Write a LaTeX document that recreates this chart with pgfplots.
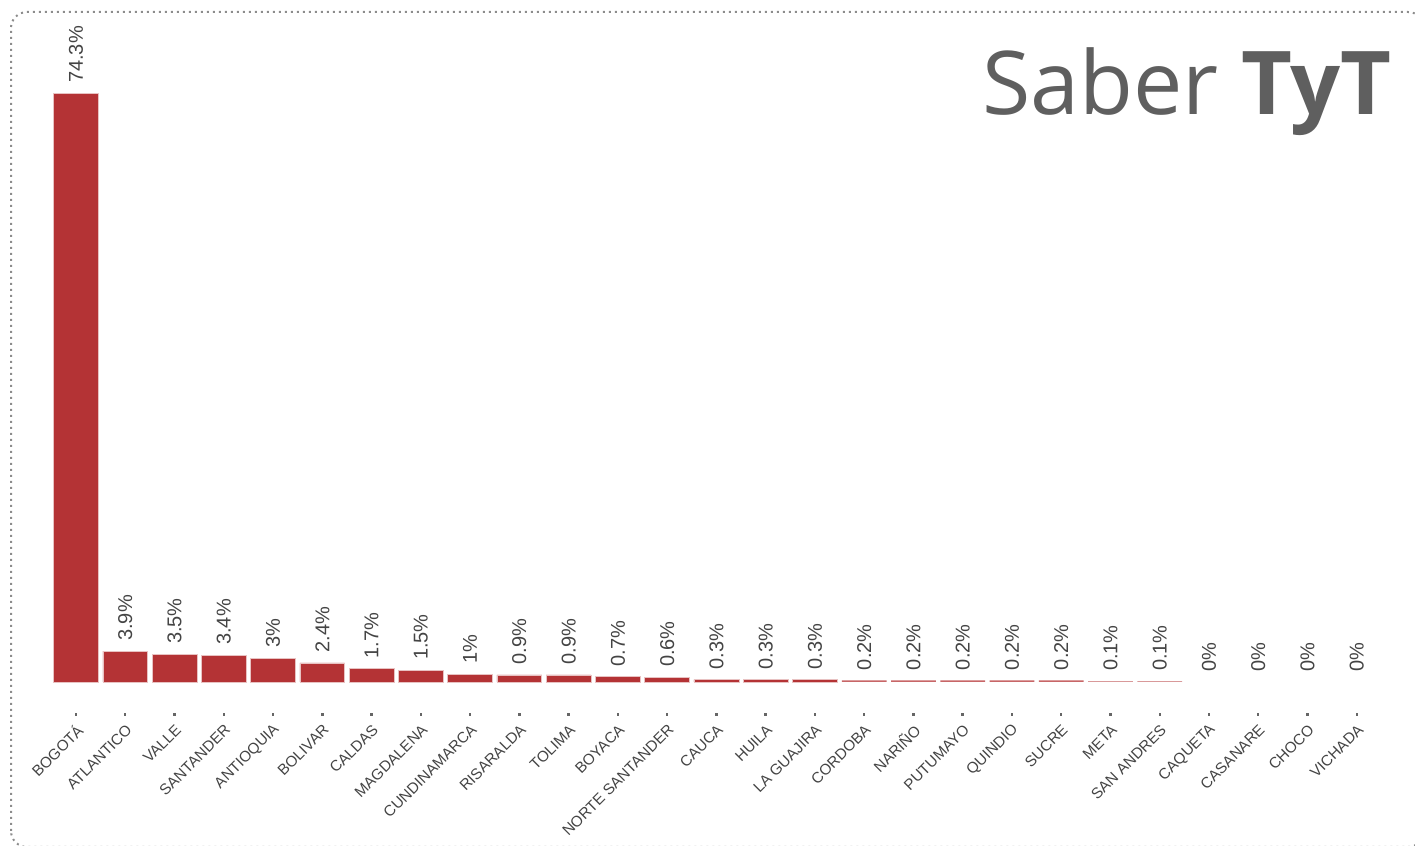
\documentclass[border=0pt]{standalone}
\usepackage{fontspec}
\setmainfont{Liberation Sans}
\newfontfamily\titlefont{Open Sans}
\usepackage{pgfplots}
\pgfplotsset{compat=1.18}
\usepackage{pgfplotstable}
\definecolor{barred}{HTML}{B43335}
\definecolor{lab}{HTML}{444444}
\definecolor{ttl}{HTML}{5F5F5F}
\pgfplotstableread[col sep=comma]{
x,y
0,74.3
1,3.9
2,3.5
3,3.4
4,3.0
5,2.4
6,1.7
7,1.5
8,1.0
9,0.9
10,0.9
11,0.7
12,0.6
13,0.3
14,0.3
15,0.3
}\dataA
\pgfplotstableread[col sep=comma]{
x,y
16,0.2
17,0.2
18,0.2
19,0.2
20,0.2
}\dataC
\pgfplotstableread[col sep=comma]{
x,y
21,0.1
22,0.1
}\dataD
\pgfplotstableread[col sep=comma]{
x,y
23,0
24,0
25,0
26,0
}\dataB
\begin{document}
\begin{tikzpicture}[x=1pt,y=1pt]
\useasboundingbox (0,0) rectangle (707.5,423);
\draw[black!45, dotted, line width=1pt, rounded corners=8pt] (5.5,-0.5) rectangle (712,417);
\node[anchor=base east, text=ttl, font=\titlefont\fontsize{44}{44}\selectfont, inner sep=0pt] at (696,365.5) {Saber \textbf{TyT}};
\begin{axis}[
  at={(25.7pt,82pt)}, anchor=south west,
  scale only axis, width=665pt, height=317pt,
  xmin=-0.5, xmax=26.5, ymin=0, ymax=80,
  axis y line=none, axis x line*=bottom,
  x axis line style={draw=none},
  ytick=\empty,
  xtick={0,...,26},
  xticklabels={BOGOTÁ,ATLANTICO,VALLE,SANTANDER,ANTIOQUIA,BOLIVAR,CALDAS,MAGDALENA,CUNDINAMARCA,RISARALDA,TOLIMA,BOYACA,NORTE SANTANDER,CAUCA,HUILA,LA GUAJIRA,CORDOBA,NARIÑO,PUTUMAYO,QUINDIO,SUCRE,META,SAN ANDRES,CAQUETA,CASANARE,CHOCO,VICHADA},
  tick align=outside, major tick length=1.5pt,
  xtick style={draw=black!60, line width=1.2pt, yshift=-15.5pt},
  xticklabel style={yshift=-21pt, xshift=2pt, rotate=45, anchor=east, font=\fontsize{7.6}{8}\selectfont, text=lab, inner sep=0pt},
  clip=false,
  ybar, bar width=0.91, bar shift=0pt,
  nodes near coords={\pgfmathprintnumber[fixed,precision=1,assume math mode=true]{\pgfplotspointmeta}\%},
  every node near coord/.append style={rotate=90, anchor=west, font=\fontsize{10}{12}\selectfont, text=lab, inner xsep=5pt, inner ysep=0pt},
]
\addplot[fill=barred, draw=barred!30, line width=0.3pt] table[x=x,y=y] {\dataA};
\addplot[fill=barred!75, draw=none] table[x=x,y=y] {\dataC};
\addplot[fill=barred!50, draw=none] table[x=x,y=y] {\dataD};
\addplot[fill=none, draw=none] table[x=x,y=y] {\dataB};
\end{axis}
\end{tikzpicture}
\end{document}
